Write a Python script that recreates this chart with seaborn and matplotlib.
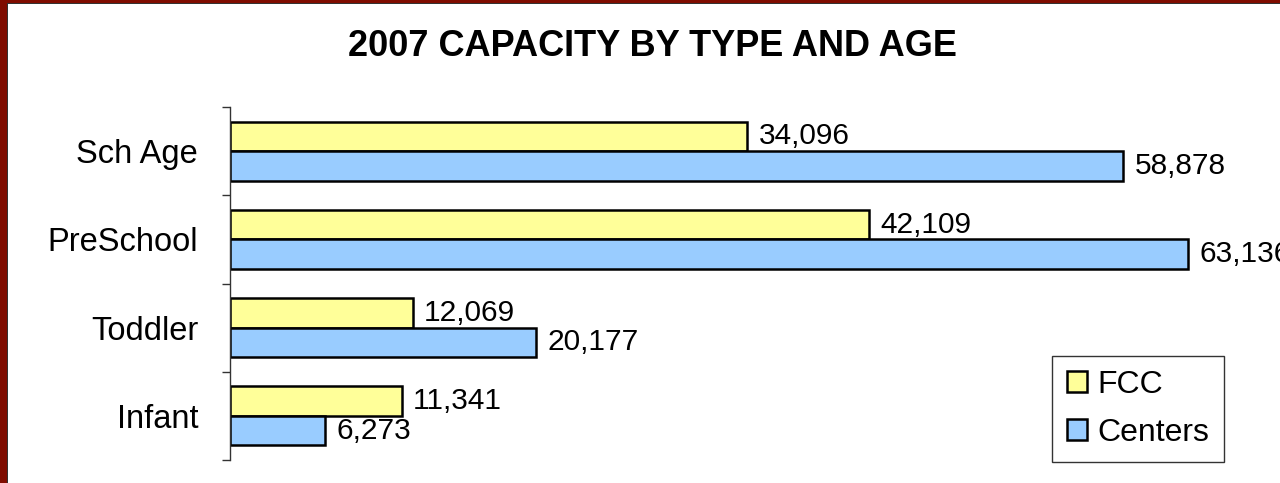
import numpy as np
import pandas as pd
import matplotlib
matplotlib.use("Agg")
import matplotlib.pyplot as plt
import seaborn as sns
from matplotlib.patches import Rectangle

# data
ages = ["Sch Age", "PreSchool", "Toddler", "Infant"]
fcc = [34096, 42109, 12069, 11341]
centers = [58878, 63136, 20177, 6273]
series = ["FCC", "Centers"]
colors = ["#FFFF99", "#99CCFF"]

df = pd.DataFrame({
    "age": ages * 2,
    "value": fcc + centers,
    "type": ["FCC"] * len(ages) + ["Centers"] * len(ages),
})

sns.set_theme(style="white")
plt.rcParams["font.family"] = ["Liberation Sans", "DejaVu Sans"]
plt.rcParams["text.color"] = "black"
plt.rcParams["ytick.color"] = "black"

W, H = 1280, 483
fig = plt.figure(figsize=(12.8, 4.83), dpi=100)
ax = fig.add_axes([230 / W, (H - 460) / H, (W - 230) / W, 353 / H])

sns.barplot(data=df, y="age", x="value", hue="type", order=ages,
            hue_order=series, palette=colors, width=0.67, orient="h",
            edgecolor="black", linewidth=1.8, saturation=1, ax=ax)

ax.set_xlim(0, 63136 * 1050 / 958)
ax.set_ylim(3.5, -0.5)
ax.set_xlabel("")
ax.set_ylabel("")
ax.set_xticks([])

# labels at category centres, ticks at group boundaries
ax.tick_params(axis="y", which="major", length=0, pad=23, labelsize=23.5,
               labelcolor="black")
ax.set_yticks(np.arange(-0.5, len(ages)), minor=True)
ax.tick_params(axis="y", which="minor", length=6, width=1, color="#333333",
               left=True)

for side in ["top", "right", "bottom"]:
    ax.spines[side].set_visible(False)
ax.spines["left"].set_color("#333333")
ax.spines["left"].set_linewidth(1)

for cont in ax.containers:
    ax.bar_label(cont, labels=[f"{v:,.0f}" for v in cont.datavalues],
                 padding=8, fontsize=21.5, color="black")

fig.text(652 / W, 1 - 46 / H, "2007 CAPACITY BY TYPE AND AGE",
         ha="center", va="center", fontsize=26, fontweight="bold", color="black")

leg = ax.legend(loc="lower right", bbox_to_anchor=(1224 / W, (H - 462) / H),
                bbox_transform=fig.transFigure, borderaxespad=0,
                fontsize=23, frameon=True, fancybox=False, title=None,
                handlelength=0.62, handleheight=0.62, handletextpad=0.35,
                labelspacing=0.55, borderpad=0.45)
leg.get_frame().set_edgecolor("#333333")
leg.get_frame().set_linewidth(1)
leg.get_frame().set_alpha(1)
for t in leg.get_texts():
    t.set_color("black")
for h in leg.legend_handles:
    h.set_edgecolor("black")
    h.set_linewidth(1.8)

# dark red frame on the left and top
fig.patches.append(Rectangle((0, 0), 7 / W, 1, transform=fig.transFigure,
                             facecolor="#7f0c00", edgecolor="none", zorder=5))
fig.patches.append(Rectangle((0, 1 - 3 / H), 1, 3 / H, transform=fig.transFigure,
                             facecolor="#7f0c00", edgecolor="none", zorder=5))
fig.patches.append(Rectangle((7 / W, 0), 1 / W, 1 - 3 / H, transform=fig.transFigure,
                             facecolor="#333333", edgecolor="none", zorder=5))
fig.patches.append(Rectangle((7 / W, 1 - 4 / H), 1, 1 / H, transform=fig.transFigure,
                             facecolor="#333333", edgecolor="none", zorder=5))

fig.savefig("out.png", dpi=100)
